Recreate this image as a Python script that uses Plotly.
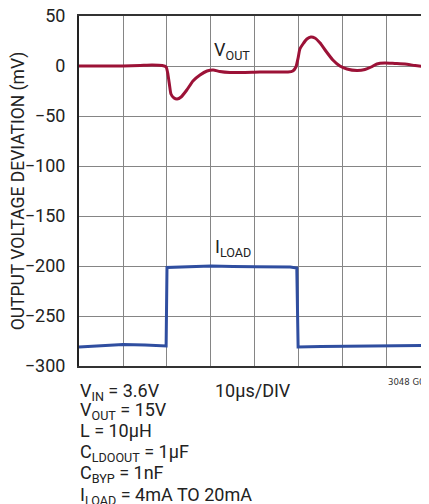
import plotly.graph_objects as go

# --- data (time in us, deviation in mV) ---
vout_t = [0, 4.8, 10, 13.9, 16.6, 18.9, 19.8, 20.2, 20.6, 20.9, 21.6, 22.3, 23.2, 24.5,
          25.9, 27.5, 29.1, 30.5, 32, 34.3, 37.7, 41.1, 44.5, 47.5, 48.6, 49.3, 49.8,
          50.2, 50.9, 51.8, 52.7, 53.6, 54.8, 56.1, 57.7, 59.3, 60.9, 63.2, 65, 66.4,
          67.7, 69.5, 71.8, 74.1, 76.4, 79.5]
vout_mv = [0, 0, 0, 0.5, 1, 0.5, -1, -8, -20, -28, -32, -33, -31, -24,
           -15, -9, -5, -4, -5.5, -6.5, -6.5, -6, -6, -6, -5, -1, 8,
           17, 22, 27, 29, 28, 23, 15, 6, 0, -3, -4.5, -3.5, -1,
           2, 3, 2.5, 2, 0.5, -1]

iload_t = [0, 5, 10, 15, 19.8, 20.0, 25, 30, 35, 40, 48, 49.5, 49.8, 55, 65, 79.5]
iload_mv = [-281, -280, -278.5, -279, -280, -201.5, -201, -200, -200.5, -200.5, -201,
            -202, -281, -280.5, -280, -279.5]

y_ticks = [50, 0, -50, -100, -150, -200, -250, -300]
y_labels = ["50", "0", "\u221250", "\u2212100", "\u2212150", "\u2212200", "\u2212250", "\u2212300"]

notes = [
    "V<sub>IN</sub> = 3.6V",
    "V<sub>OUT</sub> = 15V",
    "L = 10\u00b5H",
    "C<sub>LDOOUT</sub> = 1\u00b5F",
    "C<sub>BYP</sub> = 1nF",
    "I<sub>LOAD</sub> = 4mA TO 20mA",
]

FONT = "Roboto, DejaVu Sans Condensed, sans-serif"
OFF = 8                      # the page body margin shifts the figure by 8px
W, H = 429 - OFF, 504 - OFF
PX0, PX1, PY0, PY1 = 79, 429, 16, 366   # plot box in window pixels
L, T, B = PX0 - OFF, PY0 - OFF, H - (PY1 - OFF)

fig = go.Figure()
fig.add_trace(go.Scatter(x=vout_t, y=vout_mv, mode="lines",
                         line=dict(color="#9c1237", width=3, shape="spline", smoothing=0.5),
                         hoverinfo="skip"))
fig.add_trace(go.Scatter(x=iload_t, y=iload_mv, mode="lines",
                         line=dict(color="#2f4ea0", width=3),
                         hoverinfo="skip"))

fig.update_layout(
    width=W, height=H,
    margin=dict(l=L, r=0, t=T, b=B),
    paper_bgcolor="white", plot_bgcolor="white",
    showlegend=False,
    font=dict(family=FONT, size=18, color="#222"),
)
fig.update_xaxes(range=[0, 79.55], dtick=10, showticklabels=False,
                 showgrid=True, gridcolor="#858585", gridwidth=1.4,
                 showline=True, linecolor="#333", linewidth=1.5, mirror=True,
                 zeroline=False)
fig.update_yaxes(range=[-300, 50], tickvals=y_ticks, ticktext=y_labels, automargin=False,
                 ticklabeloverflow="allow",
                 showgrid=True, gridcolor="#858585", gridwidth=1.4,
                 showline=True, linecolor="#222", linewidth=2,
                 zeroline=False, ticks="outside", ticklen=8, tickcolor="rgba(0,0,0,0)",
                 tickfont=dict(size=18),
                 title=dict(text="OUTPUT VOLTAGE DEVIATION (mV)", font=dict(size=17.5), standoff=6))


def px(p):
    return (p - PX0) / (PX1 - PX0)


def py(p):
    return (PY1 - p) / (PY1 - PY0)


# trace labels with white backing over the grid
fig.add_annotation(xref="paper", yref="paper", x=px(232), y=py(51), yanchor="middle",
                   text="V<sub>OUT</sub>", showarrow=False,
                   bgcolor="white", borderpad=2, font=dict(size=18))
fig.add_annotation(xref="paper", yref="paper", x=px(233), y=py(248), yanchor="middle",
                   text="I<sub>LOAD</sub>", showarrow=False,
                   bgcolor="white", borderpad=2, font=dict(size=18))

fig.add_annotation(xref="paper", yref="paper", x=px(253), y=py(390), yanchor="middle",
                   text="10\u00b5s/DIV", showarrow=False, font=dict(size=18))
fig.add_annotation(xref="paper", yref="paper", x=px(386), y=py(381), yanchor="middle",
                   xanchor="left", text="3048 G08", showarrow=False,
                   font=dict(family="DejaVu Sans Condensed, Roboto, sans-serif", size=9.5,
                             color="#333"))

rows = [392, 411, 430, 453, 474, 496]
for txt, r in zip(notes, rows):
    fig.add_annotation(xref="paper", yref="paper", x=0, y=py(r), xanchor="left",
                       yanchor="middle", text=txt, showarrow=False, borderpad=0,
                       font=dict(size=18))

fig.write_html("out.html")
